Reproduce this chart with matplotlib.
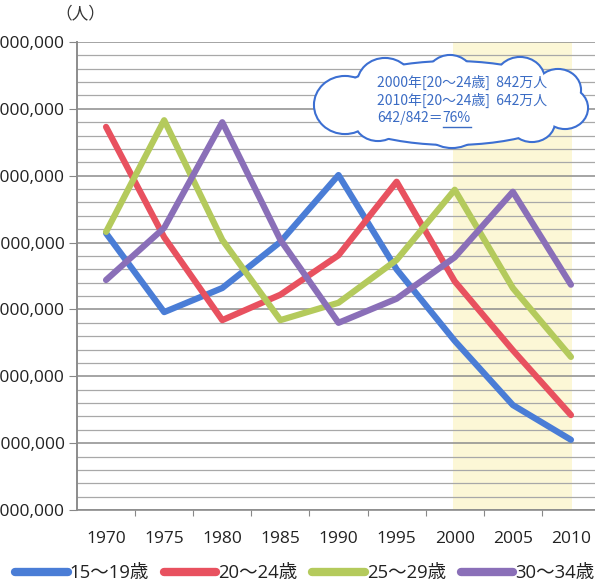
import matplotlib
matplotlib.use("Agg")
import matplotlib.pyplot as plt
from matplotlib.patches import Ellipse
from matplotlib.ticker import MultipleLocator, FixedLocator, FuncFormatter

plt.rcParams['font.family'] = ['Open Sans', 'Noto Sans CJK JP', 'DejaVu Sans']

years = ["1970", "1975", "1980", "1985", "1990", "1995", "2000", "2005", "2010"]
age_15_19 = [9.14, 7.96, 8.32, 9.01, 10.01, 8.60, 7.53, 6.57, 6.05]
age_20_24 = [10.73, 9.08, 7.84, 8.22, 8.81, 9.91, 8.42, 7.39, 6.42]
age_25_29 = [9.16, 10.83, 9.04, 7.84, 8.10, 8.74, 9.79, 8.32, 7.29]
age_30_34 = [8.44, 9.22, 10.80, 9.04, 7.80, 8.16, 8.78, 9.76, 8.37]
series_names = ["15〜19歳", "20〜24歳", "25〜29歳", "30〜34歳"]
series_colors = ["#4a7dd6", "#e8515f", "#b4ca5c", "#8a6fb8"]

note_lines = ["2000年[20〜24歳]  842万人", "2010年[20〜24歳]  642万人"]
note_ratio = "642/842＝"
note_pct = "76%"

W, H = 595, 581
fig = plt.figure(figsize=(W / 100, H / 100), dpi=100)
fig.patch.set_facecolor("white")

left, right, top, bottom = 77, 600, 42, 510
ax = fig.add_axes([left / W, 1 - bottom / H, (right - left) / W, (bottom - top) / H])

x = list(range(len(years)))
all_series = [age_15_19, age_20_24, age_25_29, age_30_34]
for vals, name, col in zip(all_series, series_names, series_colors):
    ax.plot(x, [v * 1e6 for v in vals], color=col, lw=4.5, label=name,
            solid_joinstyle="round", solid_capstyle="round", zorder=3)

# highlighted 2000-2010 band
ax.axvspan(5.97, 8.02, color="#fcf7d6", zorder=0, lw=0)

ax.set_xlim(-0.5, len(years) - 0.5)
ax.set_ylim(5e6, 12e6)
ax.yaxis.set_major_locator(MultipleLocator(1e6))
ax.yaxis.set_minor_locator(MultipleLocator(2e5))
ax.yaxis.set_major_formatter(FuncFormatter(lambda v, p: f"{int(v):,}"))
ax.grid(True, which="major", axis="y", color="#8c8c8c", lw=1.1, zorder=1)
ax.grid(True, which="minor", axis="y", color="#a8a8a8", lw=0.9, zorder=1)
ax.set_axisbelow(True)

# ticks at category boundaries, labels at centres
ax.xaxis.set_major_locator(FixedLocator([i + 0.5 for i in range(len(years) - 1)]))
ax.xaxis.set_major_formatter(FuncFormatter(lambda v, p: ""))
ax.xaxis.set_minor_locator(FixedLocator(x))
ax.set_xticklabels(years, minor=True)
ax.tick_params(axis="x", which="major", length=4, color="#888888")
ax.tick_params(axis="x", which="minor", length=0, pad=15, labelsize=12.5, labelcolor="#222222")
ax.tick_params(axis="y", which="major", length=6, color="#888888", pad=3,
               labelsize=12.5, labelcolor="#222222")
ax.tick_params(axis="y", which="minor", length=0)

for s in ["top", "right"]:
    ax.spines[s].set_visible(False)
ax.spines["left"].set_color("#8c8c8c")
ax.spines["left"].set_linewidth(1.4)
ax.spines["bottom"].set_color("#8c8c8c")
ax.spines["bottom"].set_linewidth(1.2)

fig.text(80 / W, 1 - 14 / H, "（人）", ha="center", va="center", fontsize=12,
         color="#333333", family=["Noto Sans CJK JP"])

leg = fig.legend(loc="center left", bbox_to_anchor=(15 / W, 1 - 573 / H), ncol=4,
                 frameon=False, fontsize=13.3, handlelength=2.85, handletextpad=0.1,
                 columnspacing=0.8, borderaxespad=0, borderpad=0)
for t in leg.get_texts():
    t.set_color("#222222")
for h in leg.get_lines():
    h.set_linewidth(6)
    h.set_solid_capstyle("round")

# callout cloud in pixel coordinates
ov = fig.add_axes([0, 0, 1, 1])
ov.set_xlim(0, W)
ov.set_ylim(H, 0)
ov.axis("off")
ov.patch.set_alpha(0)

blobs = [(452, 103, 240, 82), (345, 105, 60, 56), (385, 84, 54, 50), (450, 78, 46, 44),
         (520, 80, 48, 44), (558, 90, 44, 40), (565, 108, 44, 40), (532, 122, 44, 38),
         (452, 122, 60, 50), (378, 120, 46, 40)]
cloud_col = "#3c6fd2"
for cx, cy, w, h in blobs:
    ov.add_patch(Ellipse((cx, cy), w, h, facecolor="white", edgecolor=cloud_col, lw=3, zorder=10))
for cx, cy, w, h in blobs:
    ov.add_patch(Ellipse((cx, cy), w, h, facecolor="white", edgecolor="none", zorder=11))

txt_col = "#3b6cc4"
tf = dict(fontsize=10, color=txt_col, family=["Noto Sans CJK JP"], va="center", ha="left", zorder=12)
ov.text(377, 82, note_lines[0], **tf)
ov.text(377, 100, note_lines[1], **tf)
t1 = ov.text(377, 118, note_ratio, **tf)
fig.canvas.draw()
r = fig.canvas.get_renderer()
bb = t1.get_window_extent(r)
x2 = bb.x1
t2 = ov.text(x2, 118, note_pct, **tf)
bb2 = t2.get_window_extent(r)
ov.plot([x2, bb2.x1], [127, 127], color=txt_col, lw=1.0, zorder=12)

fig.savefig("out.png", dpi=100, facecolor="white")
